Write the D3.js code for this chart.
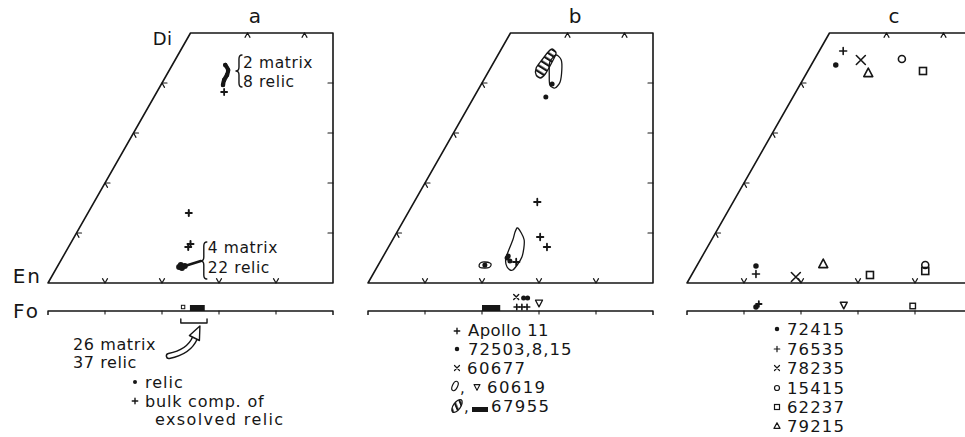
<!DOCTYPE html>
<html>
<head>
<meta charset="utf-8">
<script src="https://cdnjs.cloudflare.com/ajax/libs/d3/7.8.5/d3.min.js"></script>
<style>
  html, body { margin: 0; padding: 0; background: #fff; }
  svg { display: block; }
  text { font-family: "DejaVu Sans", sans-serif; fill: #161616; }
</style>
</head>
<body>
<svg id="chart" width="965" height="437"></svg>
<script>
// ---------------- data ----------------
const panelIds = ["a", "b", "c"];
const fsTicks = [10, 20, 30, 40];      // Fs ticks on the En–Fs base
const topTicks = [10, 20];             // Fs ticks on the Di–Hd side
const woTicks = [10, 20, 30, 40];      // Wo ticks on the side edges
const faTicks = [10, 20, 30, 40];      // Fa ticks on the Fo–Fa line
const cornerLabels = ["Di", "En", "Fo"];

// Panel a — pyroxene [Fs, Wo] mol%
const aAugRelic = [[9.3, 43.6], [10.3, 42.6], [10.6, 41.6], [10.6, 40.6], [10.9, 39.6]];
const aAugBulk = [[11.8, 38.2]];
const aLowRelic = [[21.4, 3.2], [21.5, 3.6], [22.0, 3.0], [22.3, 3.4]];
const aLowBulk = [[17.7, 14.0], [21.0, 7.2], [21.1, 7.8]];
// Panel a — olivine Fa mol%
const aOlRange = [23.3, 27.9];
const aOlMatrix = [24.9, 27.5];
const aOlRelic = [23.7];
const aAugNote = ["2 matrix", "8 relic"];
const aLowNote = ["4 matrix", "22 relic"];
const aOlNote = ["26 matrix", "37 relic"];
const aKey = ["relic", "bulk comp. of", "exsolved relic"];

// Panel b — pyroxene [Fs, Wo] mol%
const bApollo11 = [[21.6, 16.2], [25.6, 9.2], [27.8, 7.2], [23.9, 4.2]];
const b72503 = [[12.4, 39.8], [12.6, 37.2], [21.9, 5.0], [21.9, 5.4], [22.7, 4.4], [18.7, 3.6]];
const b60619Aug = [[10.2, 45.6], [11.6, 44.6], [12.7, 42.6], [13.6, 40.2], [13.3, 39.0], [12.1, 39.6], [11.0, 41.6], [9.8, 44.2]];
const b60619Low = [[20.8, 11.0], [23.1, 8.6], [24.4, 5.2], [24.1, 2.6], [22.8, 3.2], [21.7, 5.0], [21.1, 8.6], [20.7, 10.2]];
const b60619Small = [[17.7, 3.6], [17.8, 4.1], [18.4, 4.2], [19.4, 4.0], [19.8, 3.6], [19.7, 3.1], [19.0, 3.0], [18.1, 3.1]];
const b67955Aug = [[8.9, 46.8], [10.0, 46.0], [10.2, 44.2], [10.2, 41.8], [9.7, 41.0], [8.7, 41.6], [8.0, 43.0], [8.2, 44.6], [8.5, 46.2]];
// Panel b — olivine Fa mol%
const bOlApollo11 = [26.1, 27.0, 27.9];
const bOl72503 = [27.3, 28.0];
const bOl60677 = [26.0];
const bOl60619 = [30.0];
const bOl67955 = [20.0, 23.2];
const bKey = ["Apollo 11", "72503,8,15", "60677", "60619", "67955"];

// Panel c — pyroxene [Fs, Wo] mol%
const cKey = ["72415", "76535", "78235", "15415", "62237", "79215"];
const cSymbols = ["dot", "plus", "cross", "circle", "square", "triangle"];
const c72415 = [[4.3, 43.6], [10.4, 3.4]];
const c76535 = [[4.2, 46.4], [11.2, 1.8]];
const c78235 = [[8.2, 44.6], [18.5, 1.2]];
const c15415 = [[15.3, 44.8], [40.0, 3.6]];
const c62237 = [[20.2, 42.4], [31.3, 1.6], [40.6, 2.4]];
const c79215 = [[10.8, 42.0], [22.0, 3.8]];
// Panel c — olivine Fa mol%
const cOl72415 = [12.1];
const cOl76535 = [12.6];
const cOl79215 = [27.5];
const cOl62237 = [39.6];

// ---------------- layout ----------------
const INK = "#161616";
const panelLeft = [48, 368, 687];    // En corner of each quadrilateral
const unit = 5.7;                    // px per mol% along En–Fs
const quadTop = 33, quadBase = 283, foY = 311;

const svg = d3.select("#chart");
const defs = svg.append("defs");
defs.append("pattern")
  .attr("id", "hatch").attr("patternUnits", "userSpaceOnUse")
  .attr("width", 5.2).attr("height", 5.2)
  .attr("patternTransform", "rotate(-58)")
  .append("rect").attr("width", 2.2).attr("height", 5.2).attr("fill", INK);

function makeScales(left) {
  const x = d3.scaleLinear().domain([0, 50]).range([left, left + 50 * unit]);
  const y = d3.scaleLinear().domain([0, 50]).range([quadBase, quadTop]);
  // ternary projection: horizontal = Fs + Wo/2
  const pt = ([fs, wo]) => [x(fs + wo / 2), y(wo)];
  return { x, y, pt };
}

function seg(g, d, w) {
  return g.append("path").attr("d", d).attr("fill", "none")
    .attr("stroke", INK).attr("stroke-width", w || 1.5)
    .attr("stroke-linecap", "round").attr("stroke-linejoin", "round");
}

function sym(g, type, cx, cy, s, sw) {
  sw = sw || 1.5;
  const h = s / 2;
  switch (type) {
    case "dot":
      g.append("circle").attr("cx", cx).attr("cy", cy).attr("r", h).attr("fill", INK); break;
    case "plus":
      seg(g, `M${cx - h},${cy}H${cx + h}M${cx},${cy - h}V${cy + h}`, sw); break;
    case "cross":
      seg(g, `M${cx - h},${cy - h}L${cx + h},${cy + h}M${cx + h},${cy - h}L${cx - h},${cy + h}`, sw); break;
    case "circle":
      g.append("circle").attr("cx", cx).attr("cy", cy).attr("r", h)
        .attr("fill", "none").attr("stroke", INK).attr("stroke-width", sw); break;
    case "square":
      g.append("rect").attr("x", cx - h).attr("y", cy - h).attr("width", s).attr("height", s)
        .attr("fill", "none").attr("stroke", INK).attr("stroke-width", sw); break;
    case "triangle":
      seg(g, `M${cx},${cy - s * 0.55}L${cx + h},${cy + s * 0.4}L${cx - h},${cy + s * 0.4}Z`, sw); break;
    case "tridown":
      seg(g, `M${cx},${cy + s * 0.55}L${cx + h},${cy - s * 0.4}L${cx - h},${cy - s * 0.4}Z`, sw); break;
  }
}

function label(g, str, x, y, size, opts) {
  opts = opts || {};
  return g.append("text").attr("x", x).attr("y", y)
    .attr("font-size", size)
    .attr("text-anchor", opts.anchor || "start")
    .style("letter-spacing", (opts.ls == null ? 0.8 : opts.ls) + "px")
    .text(str);
}

function brace(g, x, y0, y1, ym) {
  const w = 6, q = 4, m = x + w / 2;
  seg(g, `M${x + w},${y0}Q${m},${y0} ${m},${y0 + q}L${m},${ym - q}Q${m},${ym} ${x},${ym}` +
         `Q${m},${ym} ${m},${ym + q}L${m},${y1 - q}Q${m},${y1} ${x + w},${y1}`, 1.4);
}

const field = d3.line().curve(d3.curveCardinalClosed.tension(0.2));
const trail = d3.line().curve(d3.curveCatmullRom);

function drawFrame(g, s, id) {
  const { x, y, pt } = s;
  const t = 5;
  const c = [pt([0, 0]), pt([0, 50]), pt([25, 50]), pt([50, 0])];
  seg(g, `M${c[0]}L${c[1]}L${c[2]}L${c[3]}Z`, 1.6).attr("stroke-linecap", "butt");
  // ternary ticks
  fsTicks.forEach(f => {
    const [px, py] = pt([f, 0]);
    seg(g, `M${px - t * 0.5},${py - t * 0.87}L${px},${py}L${px + t * 0.5},${py - t * 0.87}`, 1.2);
  });
  topTicks.forEach(f => {
    const [px, py] = pt([f, 50]);
    seg(g, `M${px - t * 0.5},${py + t * 0.87}L${px},${py}L${px + t * 0.5},${py + t * 0.87}`, 1.2);
  });
  woTicks.forEach(w => {
    const [px, py] = pt([0, w]);
    seg(g, `M${px + t},${py}L${px},${py}L${px + t * 0.5},${py + t * 0.87}`, 1.2);
    const rx = x(50), ry = y(w);
    seg(g, `M${rx - t},${ry}L${rx},${ry}`, 1.2);
  });
  // olivine line
  seg(g, `M${x(0)},${foY + 4}L${x(0)},${foY}L${x(50)},${foY}L${x(50)},${foY + 4}`, 1.5)
    .attr("stroke-linecap", "butt");
  faTicks.forEach(f => seg(g, `M${x(f)},${foY}V${foY + 3}`, 1.1));
  // panel letter
  label(g, id, x(0) + 207, 23, 20, { anchor: "middle", ls: 0 });
}

// ---------------- panels ----------------
panelIds.forEach((id, i) => {
  const g = svg.append("g");
  const s = makeScales(panelLeft[i]);
  drawFrame(g, s, id);
  const { x, pt } = s;

  if (id === "a") {
    const di = pt([0, 50]), en = pt([0, 0]);
    label(g, cornerLabels[0], di[0] - 18, 45, 18, { anchor: "end", ls: 0.5 });
    label(g, cornerLabels[1], en[0] - 6, 283, 20, { anchor: "end", ls: 2 });
    label(g, cornerLabels[2], en[0] - 8, 318, 20, { anchor: "end", ls: 2 });

    // high-Ca relic cluster
    seg(g, trail(aAugRelic.map(pt)), 4.2);
    aAugRelic.forEach(p => { const [px, py] = pt(p); sym(g, "dot", px, py, 4.5); });
    aAugBulk.forEach(p => { const [px, py] = pt(p); sym(g, "plus", px, py, 6, 1.8); });
    const ta = pt(aAugRelic[2]);
    brace(g, ta[0] + 9, 55, 87, 71);
    label(g, aAugNote[0], ta[0] + 16, 68, 15.5, { ls: 0.6 });
    label(g, aAugNote[1], ta[0] + 16, 87, 15.5, { ls: 0.6 });

    // low-Ca relic cluster with leader to the brace
    const lowPts = aLowRelic.map(pt);
    lowPts.forEach(([px, py]) => sym(g, "dot", px, py, 6));
    const lr = lowPts[lowPts.length - 1];
    const bx = lr[0] + 16;
    seg(g, `M${lr[0]},${lr[1]}L${bx},${261}`, 2.4);
    aLowBulk.forEach(p => { const [px, py] = pt(p); sym(g, "plus", px, py, 6, 2); });
    brace(g, bx, 242, 279, 261);
    label(g, aLowNote[0], bx + 7, 253, 15.5, { ls: 0.6 });
    label(g, aLowNote[1], bx + 7, 273, 15.5, { ls: 0.6 });

    // olivine analyses
    g.append("rect").attr("x", x(aOlMatrix[0])).attr("y", foY - 6)
      .attr("width", x(aOlMatrix[1]) - x(aOlMatrix[0])).attr("height", 6).attr("fill", INK);
    aOlRelic.forEach(f => sym(g, "square", x(f), foY - 4, 3.4, 1));
    const x0 = x(aOlRange[0]), x1 = x(aOlRange[1]);
    seg(g, `M${x0},${foY + 8}L${x0},${foY + 12}L${x1},${foY + 12}L${x1},${foY + 8}`, 1.4);
    // hollow pointer arrow
    const cx = (x0 + x1) / 2;
    const body = `M${cx - 25},${356}Q${cx - 5},${352} ${cx + 1},${338}`;
    g.append("path").attr("d", body).attr("fill", "none").attr("stroke", INK)
      .attr("stroke-width", 6.5).attr("stroke-linecap", "round");
    g.append("path").attr("d", body).attr("fill", "none").attr("stroke", "#fff")
      .attr("stroke-width", 3.6).attr("stroke-linecap", "round");
    g.append("path")
      .attr("d", `M${cx + 6},${326}L${cx + 5.5},${340.5}L${cx - 4.5},${335.5}Z`)
      .attr("fill", "#fff").attr("stroke", INK).attr("stroke-width", 1.4).attr("stroke-linejoin", "round");

    label(g, aOlNote[0], 73, 350, 16, { ls: 0.6 });
    label(g, aOlNote[1], 73, 368, 16, { ls: 0.6 });
    sym(g, "dot", 135, 382, 4);
    label(g, aKey[0], 145, 388, 16, { ls: 1 });
    sym(g, "plus", 135, 401, 5.5, 1.4);
    label(g, aKey[1], 145, 407, 16, { ls: 0.8 });
    label(g, aKey[2], 155, 425, 16, { ls: 1.4 });
  }

  if (id === "b") {
    // analysis fields
    g.append("path").attr("d", field(b67955Aug.map(pt)))
      .attr("fill", "url(#hatch)").attr("stroke", INK).attr("stroke-width", 1.3);
    [b60619Aug, b60619Low, b60619Small].forEach(f => {
      g.append("path").attr("d", field(f.map(pt)))
        .attr("fill", "none").attr("stroke", INK).attr("stroke-width", 1.3);
    });
    b72503.forEach(p => { const [px, py] = pt(p); sym(g, "dot", px, py, 5); });
    bApollo11.forEach(p => { const [px, py] = pt(p); sym(g, "plus", px, py, 6.5, 1.8); });

    // olivine
    g.append("rect").attr("x", x(bOl67955[0])).attr("y", foY - 6)
      .attr("width", x(bOl67955[1]) - x(bOl67955[0])).attr("height", 6).attr("fill", INK);
    bOlApollo11.forEach(f => sym(g, "plus", x(f), foY - 4, 5.5, 1.6));
    bOl60677.forEach(f => sym(g, "cross", x(f), foY - 14, 5, 1.4));
    bOl72503.forEach(f => sym(g, "dot", x(f), foY - 13, 5));
    bOl60619.forEach(f => sym(g, "tridown", x(f), foY - 8, 7, 1.3));

    // key
    const kx = 457, tx = 468, rows = [336, 355, 374, 393, 412];
    sym(g, "plus", kx, rows[0] - 5, 5.5, 1.4);
    label(g, bKey[0], tx, rows[0], 16.5, { ls: 0.4 });
    sym(g, "dot", kx, rows[1] - 6, 4.5);
    label(g, bKey[1], tx, rows[1], 16.5, { ls: 1 });
    sym(g, "cross", kx, rows[2] - 6, 5, 1.2);
    label(g, bKey[2], tx - 1, rows[2], 16.5, { ls: 1.4 });
    g.append("ellipse").attr("cx", kx - 2).attr("cy", rows[3] - 7).attr("rx", 2.6).attr("ry", 5)
      .attr("transform", `rotate(25,${kx - 2},${rows[3] - 7})`)
      .attr("fill", "none").attr("stroke", INK).attr("stroke-width", 1.2);
    label(g, ",", kx + 3, rows[3], 15, { ls: 0 });
    sym(g, "tridown", kx + 20, rows[3] - 6, 6, 1.1);
    label(g, bKey[3], tx + 19, rows[3], 16.5, { ls: 1.4 });
    g.append("ellipse").attr("cx", kx).attr("cy", rows[4] - 6).attr("rx", 3.6).attr("ry", 7.5)
      .attr("transform", `rotate(35,${kx},${rows[4] - 6})`)
      .attr("fill", "url(#hatch)").attr("stroke", INK).attr("stroke-width", 1.2);
    label(g, ",", kx + 7, rows[4], 15, { ls: 0 });
    g.append("rect").attr("x", kx + 15).attr("y", rows[4] - 5).attr("width", 16).attr("height", 5).attr("fill", INK);
    label(g, bKey[4], tx + 23, rows[4], 16.5, { ls: 1.4 });
  }

  if (id === "c") {
    const groups = [c72415, c76535, c78235, c15415, c62237, c79215];
    const sizes = { dot: 5.5, plus: 7, cross: 9, circle: 7, square: 7, triangle: 9 };
    groups.forEach((arr, k) => {
      arr.forEach(p => {
        const [px, py] = pt(p);
        sym(g, cSymbols[k], px, py, sizes[cSymbols[k]], 1.6);
      });
    });
    // olivine
    cOl72415.forEach(f => sym(g, "dot", x(f), foY - 4, 5.5));
    cOl76535.forEach(f => sym(g, "plus", x(f), foY - 7, 5.5, 1.8));
    cOl79215.forEach(f => sym(g, "tridown", x(f), foY - 6, 7, 1.4));
    cOl62237.forEach(f => sym(g, "square", x(f), foY - 5, 5.5, 1.4));

    // key
    const kx = 777, tx = 787, rows = [335, 355, 374, 394, 413, 432];
    const keySize = { dot: 4.5, plus: 5.5, cross: 5, circle: 5, square: 5, triangle: 6 };
    cKey.forEach((name, k) => {
      sym(g, cSymbols[k], kx, rows[k] - 6, keySize[cSymbols[k]], 1.2);
      label(g, name, tx, rows[k], 16.5, { ls: 1.1 });
    });
  }
});
</script>
</body>
</html>
